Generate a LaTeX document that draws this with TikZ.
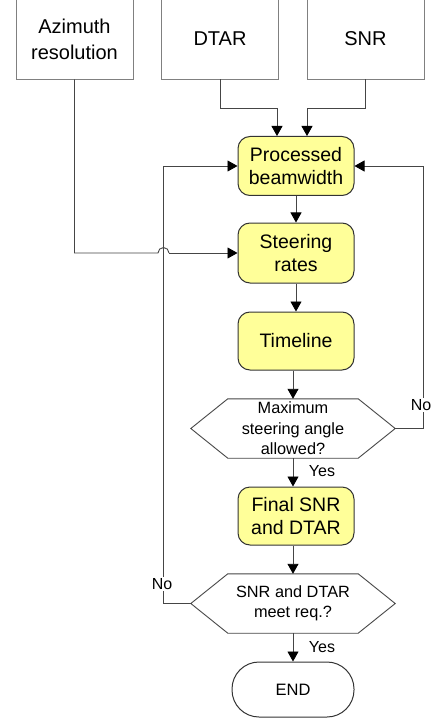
\documentclass[tikz,border=0pt]{standalone}
\usepackage{fontspec}
\setmainfont{Liberation Sans}
\usetikzlibrary{arrows.meta}
\definecolor{boxyellow}{HTML}{FFFF99}
\definecolor{lineg}{HTML}{454545}
\definecolor{topg}{HTML}{808080}
\begin{document}
\begin{tikzpicture}[x=1pt,y=-1pt,
  topbox/.style={draw=topg, line width=0.9pt, minimum width=117pt, minimum height=80pt, align=center, font=\fontsize{20}{26}\selectfont, inner sep=0pt},
  ybox/.style={draw=black!80, fill=boxyellow, line width=1pt, rounded corners=12pt, minimum width=116pt, minimum height=59pt, align=center, font=\fontsize{19.5}{23}\selectfont, inner sep=0pt},
  hexnode/.style={minimum width=204pt, minimum height=59pt, align=center, font=\fontsize{16.3}{20.5}\selectfont, inner sep=0pt},
  hexline/.style={draw=lineg, line width=0.9pt},
  endbox/.style={draw=black!80, line width=1pt, rounded corners=27pt, minimum width=122pt, minimum height=55pt, font=\fontsize{16.5}{20}\selectfont, inner sep=0pt},
  conn/.style={draw=lineg, line width=0.9pt},
  arr/.style={conn, -{Triangle[length=10pt,width=11pt,color=black]}},
  lbl/.style={font=\fontsize{16}{19}\selectfont, inner sep=1pt, fill=white}
]
\useasboundingbox (0,0) rectangle (432,719);

% top boxes
\node[topbox] (az) at (74.5,39) {Azimuth\\resolution};
\node[topbox] (dtar) at (220,39) {DTAR};
\node[topbox] (snr) at (365.5,39) {SNR};

% process boxes
\node[ybox] (pb) at (296,166) {Processed\\beamwidth};
\node[ybox, minimum height=60pt] (sr) at (296,253) {Steering\\rates};
\node[ybox, minimum height=58pt] (tl) at (296,341) {Timeline};
\node[ybox, minimum height=58pt] (fs) at (296,516) {Final SNR\\and DTAR};

% decisions
\node[hexnode] (h1) at (293,428.5) {Maximum\\steering angle\\allowed?};
\draw[hexline] (h1.west) -- ([xshift=37pt]h1.north west) -- ([xshift=-37pt]h1.north east) -- (h1.east) -- ([xshift=-37pt]h1.south east) -- ([xshift=37pt]h1.south west) -- cycle;
\node[hexnode] (h2) at (293,603.5) {SNR and DTAR\\meet req.?};
\draw[hexline] (h2.west) -- ([xshift=37pt]h2.north west) -- ([xshift=-37pt]h2.north east) -- (h2.east) -- ([xshift=-37pt]h2.south east) -- ([xshift=37pt]h2.south west) -- cycle;

% end
\node[endbox] (end) at (293,689.5) {END};

% connectors from the top
\draw[arr] (dtar.south) -- ++(0,29) -| ([xshift=-19pt]pb.north);
\draw[arr] (snr.south) -- ++(0,29) -| ([xshift=11pt]pb.north);

% main chain
\draw[arr] (pb.south) -- (sr.north);
\draw[arr] (sr.south) -- (tl.north);
\draw[arr] (h1.north |- tl.south) -- (h1.north);
\draw[arr] (h1.south) -- (h1.south |- fs.north);
\draw[arr] (h2.north |- fs.south) -- (h2.north);
\draw[arr] (h2.south) -- (end.north);

% azimuth line with a hop over the feedback line
\coordinate (hopL) at (158,253);
\coordinate (hopR) at (169,253);
\draw[conn] (az.south) |- (hopL) arc[start angle=180, end angle=360, radius=5.5];
\draw[arr] (hopR) -- (sr.west);

% feedback loops
\draw[arr] (h1.east) -- ++(28,0) |- (pb.east);
\draw[arr] (h2.west) -- ++(-27.5,0) |- (pb.west);

% labels
\node[lbl] (no1) at (421,405) {No};
\node[lbl] (no2) at (162,584) {No};
\node[font=\fontsize{16}{19}\selectfont, inner sep=0pt] (yes1) at (322,471) {Yes};
\node[font=\fontsize{16}{19}\selectfont, inner sep=0pt] (yes2) at (322,647) {Yes};
\end{tikzpicture}
\end{document}
